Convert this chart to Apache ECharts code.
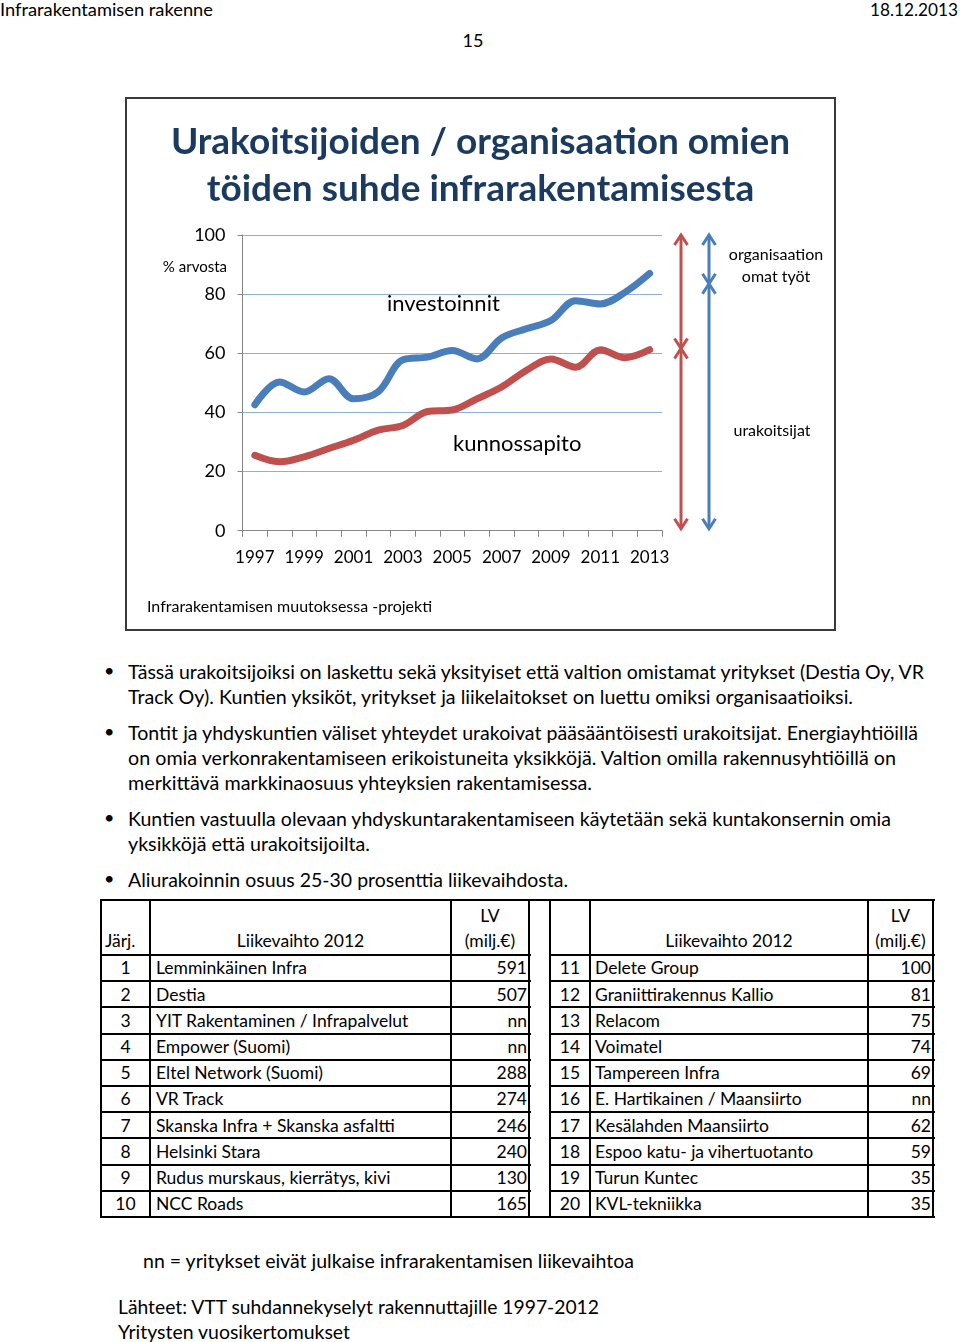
<!DOCTYPE html>
<html><head><meta charset="utf-8">
<script src="https://cdn.jsdelivr.net/npm/echarts@6/dist/echarts.min.js"></script>
<style>
html,body{margin:0;padding:0;background:#fff;}
body{width:960px;height:1342px;position:relative;overflow:hidden;font-family:Lato,'Noto Sans',sans-serif;color:#000;}
.t{position:absolute;white-space:nowrap;line-height:1.2;transform-origin:0 50%;}
.hl{position:absolute;height:2px;background:#000;}
.vl{position:absolute;width:2px;background:#000;}
.cell{position:absolute;display:flex;align-items:center;white-space:nowrap;font-size:17.5px;line-height:1;}
#frame{position:absolute;left:125px;top:97px;width:711px;height:534px;box-sizing:border-box;border:2px solid #3a3a3a;}
#chart{position:absolute;left:127px;top:99px;width:707px;height:529px;}
</style></head>
<body>
<div id="frame"></div>
<div id="chart"></div>
<div id="page"></div>
<div id="table"></div>
<script>
// ---------- data ----------
const years = ['1997','1998','1999','2000','2001','2002','2003','2004','2005','2006','2007','2008','2009','2010','2011','2012','2013'];
const investoinnit = [42.6, 50.3, 46.9, 51.4, 44.6, 47.0, 57.8, 58.7, 60.9, 58.1, 65.2, 68.3, 71.1, 77.8, 76.7, 80.6, 87.0];
const kunnossapito = [25.5, 23.3, 25.0, 27.8, 30.6, 34.0, 35.6, 40.3, 40.8, 44.6, 48.6, 54.2, 58.1, 55.3, 61.2, 58.5, 61.2];
const arrowBreaks = [61.6, 83.5]; // red (kunnossapito), blue (investoinnit)
const titleLines = ['Urakoitsijoiden / organisaation omien', 'töiden suhde infrarakentamisesta'];

const ranksL = ['1','2','3','4','5','6','7','8','9','10'];
const namesL = ['Lemminkäinen Infra','Destia','YIT Rakentaminen / Infrapalvelut','Empower (Suomi)','Eltel Network (Suomi)','VR Track','Skanska Infra + Skanska asfaltti','Helsinki Stara','Rudus murskaus, kierrätys, kivi','NCC Roads'];
const lvL = ['591','507','nn','nn','288','274','246','240','130','165'];
const ranksR = ['11','12','13','14','15','16','17','18','19','20'];
const namesR = ['Delete Group','Graniittirakennus Kallio','Relacom','Voimatel','Tampereen Infra','E. Hartikainen  / Maansiirto','Kesälahden Maansiirto','Espoo katu- ja vihertuotanto','Turun Kuntec','KVL-tekniikka'];
const lvR = ['100','81','75','74','69','nn','62','59','35','35'];

const bullets = [
  ['Tässä urakoitsijoiksi on laskettu sekä yksityiset että valtion omistamat yritykset (Destia Oy, VR', 'Track Oy). Kuntien yksiköt, yritykset ja  liikelaitokset on luettu omiksi organisaatioiksi.'],
  ['Tontit ja yhdyskuntien väliset yhteydet urakoivat pääsääntöisesti urakoitsijat. Energiayhtiöillä', 'on omia verkonrakentamiseen erikoistuneita yksikköjä. Valtion omilla rakennusyhtiöillä on', 'merkittävä markkinaosuus yhteyksien rakentamisessa.'],
  ['Kuntien vastuulla olevaan yhdyskuntarakentamiseen käytetään sekä kuntakonsernin omia', 'yksikköjä että urakoitsijoilta.'],
  ['Aliurakoinnin osuus 25-30 prosenttia liikevaihdosta.']
];

// ---------- page text ----------
const page = document.getElementById('page');
function txt(s, x, cy, size, opts) {
  opts = opts || {};
  const d = document.createElement('div');
  d.className = 't';
  d.textContent = s;
  d.style.fontSize = size + 'px';
  d.style.top = (cy - size * 0.6) + 'px';
  if (opts.right !== undefined) { d.style.right = (960 - opts.right) + 'px'; d.style.transformOrigin = '100% 50%'; }
  else if (opts.center) { d.style.left = x + 'px'; d.dataset.center = '1'; }
  else d.style.left = x + 'px';
  if (opts.w) d.dataset.w = opts.w;
  if (opts.color) d.style.color = opts.color;
  page.appendChild(d);
  return d;
}
txt('Infrarakentamisen rakenne', 0, 10, 18, {w: 213});
txt('18.12.2013', 0, 10, 18, {right: 958, w: 88});
txt('15', 473, 41, 18, {center: true});

const bulletY = [[671, 696], [732, 757, 782], [818, 843], [879]];
const bulletW = [[796, 725], [790, 768, 464], [763, 242], [440]];
bullets.forEach((lines, i) => {
  txt('•', 104, bulletY[i][0], 18);
  lines.forEach((l, j) => txt(l, 128, bulletY[i][j], 20, {w: bulletW[i][j]}));
});
txt('nn = yritykset eivät julkaise infrarakentamisen liikevaihtoa', 143, 1260, 20, {w: 491});
txt('Lähteet: VTT suhdannekyselyt rakennuttajille 1997-2012', 118, 1306, 20, {w: 481});
txt('Yritysten vuosikertomukset', 118, 1331, 20, {w: 232});

// ---------- table ----------
const tb = document.getElementById('table');
function el(cls, css, text) {
  const d = document.createElement('div');
  d.className = cls;
  Object.assign(d.style, css);
  if (text !== undefined) d.textContent = text;
  tb.appendChild(d);
  return d;
}
const rowLines = [955];
for (let i = 1; i <= 10; i++) rowLines.push(955 + i * 26.2);
const tTop = 899, tBot = rowLines[10];
el('hl', {left: '101px', top: tTop + 'px', width: '834px'});
el('hl', {left: '101px', top: (tBot - 1) + 'px', width: '834px'});
rowLines.slice(0, 10).forEach(y => {
  el('hl', {left: '101px', top: (y - 1) + 'px', width: '430px'});
  el('hl', {left: '549px', top: (y - 1) + 'px', width: '386px'});
});
[100, 149, 450, 528, 549, 589, 867, 932].forEach(x => el('vl', {left: x + 'px', top: tTop + 'px', height: (tBot - tTop + 1) + 'px'}));

function cell(text, x0, x1, y0, y1, align, pad) {
  const c = el('cell', {left: x0 + 'px', top: y0 + 'px', width: (x1 - x0) + 'px', height: (y1 - y0) + 'px',
    justifyContent: align === 'l' ? 'flex-start' : align === 'r' ? 'flex-end' : 'center', boxSizing: 'border-box',
    paddingLeft: (align === 'l' ? pad : 0) + 'px', paddingRight: (align === 'r' ? pad : 0) + 'px'}, text);
  return c;
}
// header
cell('Järj.', 101, 149, 929, 953, 'l', 4);
cell('Liikevaihto 2012', 151, 450, 929, 953, 'c');
cell('LV', 452, 528, 903, 928, 'c');
cell('(milj.€)', 452, 528, 929, 953, 'c');
cell('Liikevaihto 2012', 591, 867, 929, 953, 'c');
cell('LV', 869, 932, 903, 928, 'c');
cell('(milj.€)', 869, 932, 929, 953, 'c');
for (let i = 0; i < 10; i++) {
  const y0 = rowLines[i] + 1, y1 = (i < 9 ? rowLines[i + 1] : tBot) - 1;
  cell(ranksL[i], 102, 149, y0, y1, 'c');
  cell(namesL[i], 151, 450, y0, y1, 'l', 5);
  cell(lvL[i], 452, 528, y0, y1, 'r', 1);
  cell(ranksR[i], 551, 589, y0, y1, 'c');
  cell(namesR[i], 591, 867, y0, y1, 'l', 4);
  cell(lvR[i], 869, 932, y0, y1, 'r', 1);
}

// fit text widths
document.querySelectorAll('.t').forEach(d => {
  const w = d.getBoundingClientRect().width;
  if (d.dataset.center) d.style.left = (parseFloat(d.style.left) - w / 2) + 'px';
  if (d.dataset.w) d.style.transform = 'scaleX(' + (parseFloat(d.dataset.w) / w) + ')';
});

// ---------- chart ----------
const F = 'Lato, "Noto Sans", sans-serif';
const RED = '#C0504D', BLUE = '#4A7EBB';
const chart = echarts.init(document.getElementById('chart'));
chart.setOption({
  animation: false,
  title: {text: titleLines.join('\n'), left: 'center', top: 15,
    textStyle: {fontFamily: F, fontSize: 37, fontWeight: 'bold', color: '#1B3A5F', lineHeight: 47}},
  grid: {left: 115.5, right: 172, top: 136, bottom: 97.3, containLabel: false, outerBoundsMode: 'none'},
  xAxis: {type: 'category', data: years, boundaryGap: true,
    axisLine: {lineStyle: {color: '#868686', width: 1}},
    axisTick: {show: true, interval: 0, length: 6, lineStyle: {color: '#868686'}},
    axisLabel: {interval: 1, fontFamily: F, fontSize: 17, color: '#000', margin: 18},
    splitLine: {show: false}},
  yAxis: {type: 'value', min: 0, max: 100, interval: 20,
    axisLine: {show: true, lineStyle: {color: '#868686'}},
    axisTick: {show: true, length: 5, lineStyle: {color: '#868686'}},
    axisLabel: {fontFamily: F, fontSize: 18, color: '#000', margin: 17},
    splitLine: {lineStyle: {color: '#8EB0D8', width: 1}}},
  series: [
    {name: 'investoinnit', type: 'line', data: investoinnit, smooth: 0.35, symbol: 'none',
      lineStyle: {width: 7, color: BLUE, cap: 'round', join: 'round'}, itemStyle: {color: BLUE}},
    {name: 'kunnossapito', type: 'line', data: kunnossapito, smooth: 0.35, symbol: 'none',
      lineStyle: {width: 7, color: RED, cap: 'round', join: 'round'}, itemStyle: {color: RED}}
  ]
});

function label(s, x, y, size, align) {
  return {type: 'text', x: x, y: y, style: {text: s, fontFamily: F, fontSize: size, fill: '#000',
    align: align || 'left', verticalAlign: 'middle'}};
}
function arrowSeg(x, yTop, yBot, color) {
  const h = 10, w = 6.5, s = {stroke: color, lineWidth: 3, fill: null};
  return [
    {type: 'line', shape: {x1: x, y1: yTop + 1, x2: x, y2: yBot - 1}, style: s},
    {type: 'polyline', shape: {points: [[x - w, yTop + h], [x, yTop], [x + w, yTop + h]]}, style: s},
    {type: 'polyline', shape: {points: [[x - w, yBot - h], [x, yBot], [x + w, yBot - h]]}, style: s}
  ];
}
const py = v => chart.convertToPixel({yAxisIndex: 0}, v);
const y100 = py(100), y0 = py(0);
const redX = 554, blueX = 582;
const g = [
  label('% arvosta', 100, 168, 15, 'right'),
  label('investoinnit', 260, 205, 22),
  label('kunnossapito', 326, 345, 22),
  label('organisaation', 649, 156, 16, 'center'),
  label('omat työt', 649, 178, 16, 'center'),
  label('urakoitsijat', 645, 332, 16, 'center'),
  label('Infrarakentamisen muutoksessa -projekti', 20, 508, 16)
].concat(
  arrowSeg(redX, y100, py(arrowBreaks[0]), RED),
  arrowSeg(redX, py(arrowBreaks[0]), y0 - 2, RED),
  arrowSeg(blueX, y100, py(arrowBreaks[1]), BLUE),
  arrowSeg(blueX, py(arrowBreaks[1]), y0 - 2, BLUE)
);
chart.setOption({graphic: g});
</script>
</body></html>
